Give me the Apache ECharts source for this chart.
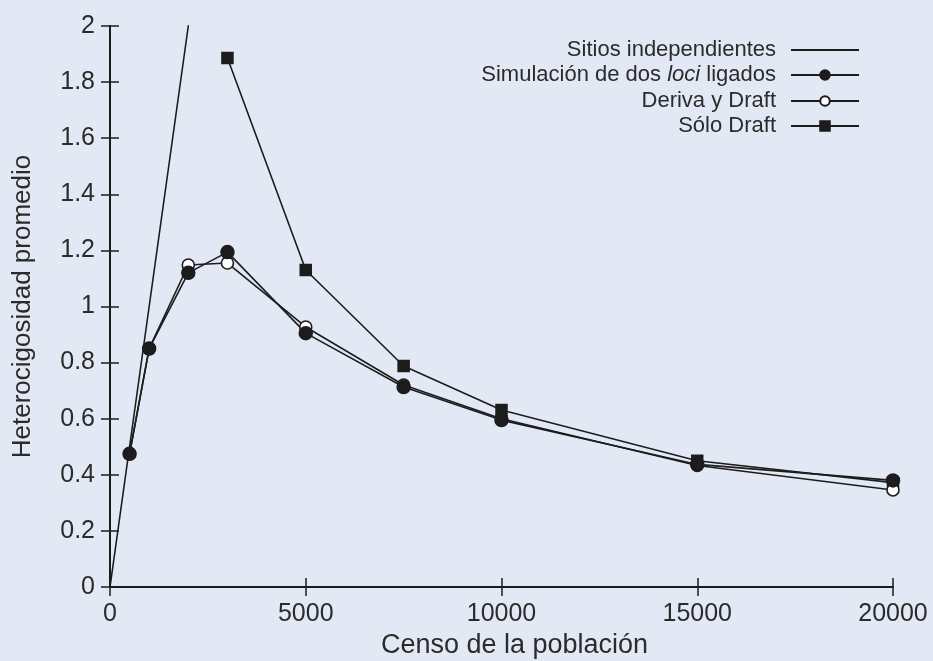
<!DOCTYPE html>
<html>
<head>
<meta charset="utf-8">
<script src="https://cdn.jsdelivr.net/npm/echarts@6/dist/echarts.min.js"></script>
<style>
  html, body { margin: 0; padding: 0; background: #e3e9f4; }
  #chart { width: 933px; height: 661px; }
</style>
</head>
<body>
<div id="chart"></div>
<script>
// Census sizes (x) and average heterozygosity for each model
const censo = [500, 1000, 2000, 3000, 5000, 7500, 10000, 15000, 20000];
const sitiosX = [0, 500, 1000, 2000, 3000];
const sitiosY = [0, 0.5, 1.0, 2.0, 3.0];
const simulacion = [0.475, 0.85, 1.12, 1.194, 0.905, 0.713, 0.595, 0.437, 0.38];
const deriva = [0.475, 0.85, 1.148, 1.155, 0.927, 0.72, 0.60, 0.433, 0.346];
const soloDraftX = [3000, 5000, 7500, 10000, 15000, 20000];
const soloDraft = [1.886, 1.13, 0.788, 0.631, 0.45, 0.372];

const names = [
  'Sitios independientes',
  'Simulación de dos loci ligados',
  'Deriva y Draft',
  'Sólo Draft'
];

const ink = '#1c1c1c';
const txt = '#2b2b2b';
const font = '"Liberation Sans", Arial, sans-serif';

const pairs = (xs, ys) => xs.map((x, i) => [x, ys[i]]);

const chart = echarts.init(document.getElementById('chart'));

// one legend block per entry so every key sits flush against the same right edge
const legendTops = [39, 64, 90, 115];
const legends = names.map((n, i) => ({
  data: [i === 0 ? { name: n, itemStyle: { opacity: 0 } } : n],
  orient: 'vertical',
  right: 73,
  top: legendTops[i],
  padding: 0,
  align: 'right',
  itemWidth: 68,
  itemHeight: 12,
  selectedMode: false,
  formatter: name => name === names[1] ? 'Simulación de dos {i|loci} ligados' : name,
  textStyle: {
    fontFamily: font,
    fontSize: 22,
    color: txt,
    padding: [0, 10, 0, 0],
    rich: { i: { fontStyle: 'italic', fontFamily: font, fontSize: 22, color: txt } }
  }
}));

const lineBase = {
  type: 'line',
  clip: true,
  animation: false,
  lineStyle: { color: ink, width: 1.6 },
  itemStyle: { color: ink, borderColor: ink, borderWidth: 1.5 },
  emphasis: { disabled: true }
};

const tickStyle = { show: true, inside: true, length: 9, lineStyle: { color: ink, width: 1.5 } };
const frameLine = { show: true, lineStyle: { color: ink, width: 2 } };

chart.setOption({
  backgroundColor: '#e3e9f4',
  animation: false,
  legend: legends,
  grid: { left: 110, right: 40, top: 26, bottom: 74, containLabel: false, outerBoundsMode: 'none' },
  xAxis: [
    {
      type: 'value', min: 0, max: 20000, interval: 5000,
      name: 'Censo de la población', nameLocation: 'middle', nameGap: 42,
      nameTextStyle: { fontFamily: font, fontSize: 27, color: txt, padding: [0, 0, 0, 26] },
      axisLine: frameLine,
      axisTick: tickStyle,
      axisLabel: { fontFamily: font, fontSize: 25, color: txt, margin: 15, formatter: v => String(v) },
      splitLine: { show: false }
    },
    {
      type: 'value', min: 0, max: 20000, interval: 5000, position: 'top',
      axisLine: frameLine,
      axisTick: tickStyle,
      axisLabel: { show: false },
      splitLine: { show: false }
    }
  ],
  yAxis: [
    {
      type: 'value', min: 0, max: 2, interval: 0.2,
      name: 'Heterocigosidad promedio', nameLocation: 'middle', nameGap: 74,
      nameTextStyle: { fontFamily: font, fontSize: 26, color: txt },
      axisLine: frameLine,
      axisTick: tickStyle,
      axisLabel: { fontFamily: font, fontSize: 25, color: txt, margin: 15, formatter: v => String(+v.toFixed(1)) },
      splitLine: { show: false }
    },
    {
      type: 'value', min: 0, max: 2, interval: 0.2, position: 'right',
      axisLine: frameLine,
      axisTick: tickStyle,
      axisLabel: { show: false },
      splitLine: { show: false }
    }
  ],
  series: [
    Object.assign({}, lineBase, {
      name: names[0],
      symbol: 'none',
      data: pairs(sitiosX, sitiosY)
    }),
    Object.assign({}, lineBase, {
      name: names[3],
      symbol: 'rect',
      symbolSize: 11,
      data: pairs(soloDraftX, soloDraft)
    }),
    Object.assign({}, lineBase, {
      name: names[2],
      symbol: 'circle',
      symbolSize: 12,
      itemStyle: { color: '#ffffff', borderColor: ink, borderWidth: 1.6 },
      data: pairs(censo, deriva)
    }),
    Object.assign({}, lineBase, {
      name: names[1],
      symbol: 'circle',
      symbolSize: 13,
      data: pairs(censo, simulacion)
    })
  ]
});
</script>
</body>
</html>
